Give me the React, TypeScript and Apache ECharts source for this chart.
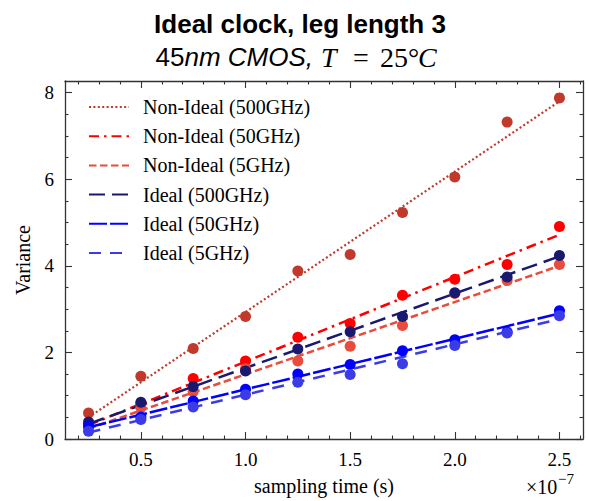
import React, { useEffect, useRef } from "react";
import * as echarts from "echarts";

const xVals = [0.25, 0.5, 0.75, 1.0, 1.25, 1.5, 1.75, 2.0, 2.25, 2.5];

const seriesNames = [
  "Non-Ideal (500GHz)",
  "Non-Ideal (50GHz)",
  "Non-Ideal (5GHz)",
  "Ideal (500GHz)",
  "Ideal (50GHz)",
  "Ideal (5GHz)",
];

const ni500 = [0.6, 1.45, 2.09, 2.83, 3.88, 4.26, 5.23, 6.05, 7.32, 7.88];
const ni50 = [0.33, 0.8, 1.4, 1.8, 2.35, 2.67, 3.32, 3.69, 4.03, 4.91];
const ni5 = [0.27, 0.73, 1.1, 1.62, 1.8, 2.14, 2.62, 3.36, 3.66, 4.03];
const id500 = [0.39, 0.85, 1.21, 1.57, 2.08, 2.48, 2.83, 3.38, 3.74, 4.24];
const id50 = [0.3, 0.51, 0.88, 1.15, 1.5, 1.72, 2.04, 2.29, 2.47, 2.96];
const id5 = [0.18, 0.45, 0.74, 1.02, 1.31, 1.49, 1.74, 2.16, 2.45, 2.85];

// fitted line end points
const fitX = [0.25, 2.5];
const fitStart = [0.5, 0.32, 0.24, 0.35, 0.27, 0.15];
const fitEnd = [7.8, 4.72, 4.0, 4.22, 2.9, 2.77];

const xMajorTicks = [0.5, 1.0, 1.5, 2.0, 2.5];
const xMinorTicks = [0.2, 0.3, 0.4, 0.6, 0.7, 0.8, 0.9, 1.1, 1.2, 1.3, 1.4, 1.6, 1.7, 1.8, 1.9, 2.1, 2.2, 2.3, 2.4, 2.6];
const yMajorTicks = [0, 2, 4, 6, 8];
const yMinorTicks = [0.5, 1, 1.5, 2.5, 3, 3.5, 4.5, 5, 5.5, 6.5, 7, 7.5];

const colors = ["#c0392b", "#ff0000", "#e74c3c", "#191970", "#0000ff", "#3c3ce6"];
const dashes: any[] = [
  [2, 2.4],
  [10, 5, 2.5, 5],
  [7.5, 3.5],
  [16, 7],
  [18, 3],
  [12, 9],
];

const X_MIN = 0.1375;
const X_MAX = 2.6125;
const Y_MIN = 0;
const Y_MAX = 8.27;

const SERIF = "Liberation Serif";
const SANS = "Liberation Sans";
const AXIS_COLOR = "#333";

export default function App() {
  const ref = useRef<HTMLDivElement>(null);

  useEffect(() => {
    if (!ref.current) return;
    const chart = echarts.init(ref.current, undefined, { renderer: "svg" });
    const pts = [ni500, ni50, ni5, id500, id50, id5];

    const mkX = (pos: string, ticks: number[], len: number, labels: boolean, line: boolean) => ({
      type: "value",
      position: pos,
      min: X_MIN,
      max: X_MAX,
      splitLine: { show: false },
      axisLine: { show: line, onZero: false, lineStyle: { color: AXIS_COLOR, width: 1.3 } },
      axisTick: { show: true, inside: true, length: len, customValues: ticks, lineStyle: { color: AXIS_COLOR, width: 1.1 } },
      axisLabel: labels
        ? {
            show: true,
            customValues: ticks,
            formatter: (v: number) => v.toFixed(1),
            fontFamily: SERIF,
            fontSize: 19,
            color: "#000",
            margin: 11,
          }
        : { show: false },
    });
    const mkY = (pos: string, ticks: number[], len: number, labels: boolean, line: boolean) => ({
      type: "value",
      position: pos,
      min: Y_MIN,
      max: Y_MAX,
      splitLine: { show: false },
      axisLine: { show: line, onZero: false, lineStyle: { color: AXIS_COLOR, width: 1.3 } },
      axisTick: { show: true, inside: true, length: len, customValues: ticks, lineStyle: { color: AXIS_COLOR, width: 1.1 } },
      axisLabel: labels
        ? {
            show: true,
            customValues: ticks,
            formatter: (v: number) => String(Math.round(v)),
            fontFamily: SERIF,
            fontSize: 19,
            color: "#000",
            margin: 11,
          }
        : { show: false },
    });

    const xAxes: any[] = [
      {
        ...mkX("bottom", xMajorTicks, 7, true, true),
        name: "sampling time (s)",
        nameLocation: "middle",
        nameGap: 37,
        nameTextStyle: { fontFamily: SERIF, fontSize: 20, color: "#000" },
      },
      mkX("bottom", xMinorTicks, 3.5, false, false),
      mkX("top", xMajorTicks, 7, false, true),
      mkX("top", xMinorTicks, 3.5, false, false),
    ];
    const yAxes: any[] = [
      {
        ...mkY("left", yMajorTicks, 7, true, true),
        name: "Variance",
        nameLocation: "middle",
        nameGap: 32,
        nameRotate: 90,
        nameTextStyle: { fontFamily: SERIF, fontSize: 20, color: "#000" },
      },
      mkY("left", yMinorTicks, 3.5, false, false),
      mkY("right", yMajorTicks, 7, false, true),
      mkY("right", yMinorTicks, 3.5, false, false),
    ];

    const lineSeries = seriesNames.map((name, i) => ({
      name,
      type: "line",
      xAxisIndex: 0,
      yAxisIndex: 0,
      symbol: "none",
      data: [
        [fitX[0], fitStart[i]],
        [fitX[1], fitEnd[i]],
      ],
      lineStyle: { color: colors[i], width: i === 0 ? 2.2 : 2.5, type: dashes[i] },
      itemStyle: { color: colors[i] },
      z: 2,
    }));
    const scatterSeries = seriesNames.map((name, i) => ({
      name: name + " data",
      type: "scatter",
      xAxisIndex: 0,
      yAxisIndex: 0,
      symbol: "circle",
      symbolSize: 11,
      data: xVals.map((x, j) => [x, pts[i][j]]),
      itemStyle: { color: colors[i], opacity: 1 },
      z: 3,
    }));

    const serifTitle = (text: string, left: number, top: number, italic: boolean, size: number) => ({
      text,
      left,
      top,
      padding: 0,
      textStyle: {
        fontFamily: SERIF,
        fontStyle: italic ? "italic" : "normal",
        fontWeight: "normal",
        fontSize: size,
        lineHeight: size,
        color: "#000",
      },
    });

    chart.setOption({
      animation: false,
      backgroundColor: "#fff",
      title: [
        serifTitle("T", 321, 43, true, 28),
        serifTitle("=", 353, 43, false, 28),
        serifTitle("25°", 380, 43, false, 28),
        serifTitle("C", 418, 43, true, 28),
        serifTitle("×10", 526, 477, false, 20),
        serifTitle("−7", 558, 471.5, false, 15),
      ],
      grid: { left: 65, right: 6, top: 81, bottom: 58, containLabel: false },
      xAxis: xAxes,
      yAxis: yAxes,
      legend: {
        data: seriesNames,
        orient: "vertical",
        left: 83,
        top: 92,
        itemWidth: 40,
        itemHeight: 14,
        itemGap: 9.2,
        itemStyle: { opacity: 0, color: "transparent", borderWidth: 0 },
        textStyle: { fontFamily: SERIF, fontSize: 20, color: "#000", lineHeight: 20, padding: [0, 0, 0, 9] },
        selectedMode: false,
      },
      series: [...lineSeries, ...scatterSeries],
      graphic: [
        {
          type: "text",
          x: 300,
          y: 24,
          style: {
            text: "Ideal clock, leg length 3",
            fontFamily: SANS,
            fontWeight: "bold",
            fontSize: 26,
            fill: "#000",
            align: "center",
            verticalAlign: "middle",
          },
        },
        {
          type: "text",
          x: 313,
          y: 57,
          style: {
            text: "{a|45}{b|nm CMOS,}",
            align: "right",
            verticalAlign: "middle",
            fontFamily: SANS,
            fontSize: 26,
            fill: "#000",
            rich: {
              a: { fontFamily: SANS, fontSize: 26, fill: "#000" },
              b: { fontFamily: SANS, fontStyle: "italic", fontSize: 26, fill: "#000" },
            },
          },
        },
      ],
    });

    return () => chart.dispose();
  }, []);

  return (
    <div
      ref={ref}
      style={{ position: "absolute", left: 0, top: 0, width: 589, height: 501 }}
    />
  );
}
